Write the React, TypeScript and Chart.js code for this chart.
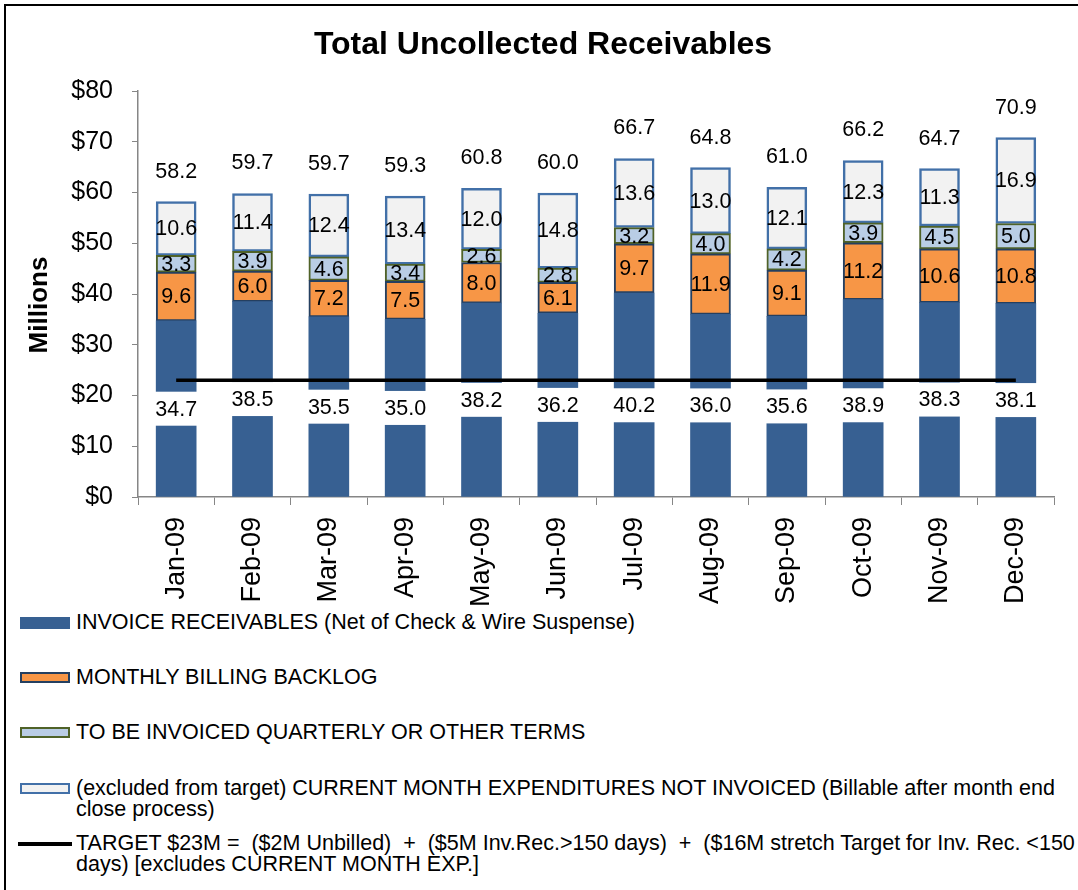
import React, { useEffect, useRef } from "react";
import { Chart, registerables } from "chart.js";

Chart.register(...registerables);

const months = ["Jan-09", "Feb-09", "Mar-09", "Apr-09", "May-09", "Jun-09", "Jul-09", "Aug-09", "Sep-09", "Oct-09", "Nov-09", "Dec-09"];
const invoiceReceivables = [34.7, 38.5, 35.5, 35.0, 38.2, 36.2, 40.2, 36.0, 35.6, 38.9, 38.3, 38.1];
const monthlyBacklog = [9.6, 6.0, 7.2, 7.5, 8.0, 6.1, 9.7, 11.9, 9.1, 11.2, 10.6, 10.8];
const quarterlyTerms = [3.3, 3.9, 4.6, 3.4, 2.6, 2.8, 3.2, 4.0, 4.2, 3.9, 4.5, 5.0];
const currentMonthExp = [10.6, 11.4, 12.4, 13.4, 12.0, 14.8, 13.6, 13.0, 12.1, 12.3, 11.3, 16.9];
const totals = [58.2, 59.7, 59.7, 59.3, 60.8, 60.0, 66.7, 64.8, 61.0, 66.2, 64.7, 70.9];
const targetValue = [23, 23, 23, 23, 23, 23, 23, 23, 23, 23, 23, 23];
const yTicks = [0, 10, 20, 30, 40, 50, 60, 70, 80];

const chartTitle = "Total Uncollected Receivables";
const yAxisTitle = "Millions";

const seriesNames = [
  "INVOICE RECEIVABLES (Net of Check & Wire Suspense)",
  "MONTHLY BILLING BACKLOG",
  "TO BE INVOICED QUARTERLY OR OTHER TERMS",
  "(excluded from target) CURRENT MONTH EXPENDITURES NOT INVOICED (Billable after month end\nclose process)",
  "TARGET $23M =  ($2M Unbilled)  +  ($5M Inv.Rec.>150 days)  +  ($16M stretch Target for Inv. Rec. <150\ndays) [excludes CURRENT MONTH EXP.]",
];

const FONT = '"Liberation Sans", Arial, Helvetica, sans-serif';

const COLORS = {
  invoice: "#376092",
  backlog: "#F79646",
  backlogBorder: "#243F60",
  quarterly: "#B9CDE5",
  quarterlyBorder: "#4F6228",
  current: "#F2F2F2",
  currentBorder: "#4270A8",
  axis: "#868686",
};

const barSeries = [invoiceReceivables, monthlyBacklog, quarterlyTerms, currentMonthExp];

const labelPlugin = {
  id: "stackLabels",
  afterDatasetsDraw(chart: any) {
    const ctx = chart.ctx;
    const yScale = chart.scales.y;
    const lineY = yScale.getPixelForValue(targetValue[0]);
    ctx.save();
    ctx.font = `21.5px ${FONT}`;
    ctx.textAlign = "center";
    ctx.textBaseline = "middle";
    barSeries.forEach((values, di) => {
      const meta = chart.getDatasetMeta(di);
      meta.data.forEach((el: any, i: number) => {
        const p = el.getProps(["x", "y", "base", "width"], true);
        let cy = (p.y + p.base) / 2;
        const txt = values[i].toFixed(1);
        if (di === 0) {
          const h = 34;
          let top = cy - h / 2;
          // keep the label box clear of the target line
          if (top < lineY + 1.5) {
            top = lineY + 8;
            cy = top + h / 2;
          }
          const tw = ctx.measureText(txt).width;
          const w = Math.max(tw + 4, p.width + 2);
          ctx.fillStyle = "#ffffff";
          ctx.fillRect(p.x - w / 2, top, w, h);
        }
        ctx.fillStyle = "#000000";
        ctx.fillText(txt, p.x, cy + 1);
      });
    });
    const topMeta = chart.getDatasetMeta(3);
    topMeta.data.forEach((el: any, i: number) => {
      const p = el.getProps(["x", "y"], true);
      ctx.fillStyle = "#000000";
      ctx.fillText(totals[i].toFixed(1), p.x, p.y - 30);
    });

    // chart title
    ctx.font = `bold 32px ${FONT}`;
    ctx.fillText(chartTitle, 537, 39);

    // y-axis title
    ctx.save();
    ctx.translate(34, 299);
    ctx.rotate(-Math.PI / 2);
    ctx.font = `bold 26px ${FONT}`;
    ctx.fillText(yAxisTitle, 0, 0);
    ctx.restore();

    ctx.restore();
  },
};

export default function App() {
  const canvasRef = useRef<HTMLCanvasElement | null>(null);

  useEffect(() => {
    if (!canvasRef.current) return;
    const chart = new Chart(canvasRef.current, {
      type: "bar",
      data: {
        labels: months,
        datasets: [
          {
            type: "bar",
            label: seriesNames[0],
            data: invoiceReceivables,
            backgroundColor: COLORS.invoice,
            borderWidth: 0,
            order: 1,
            stack: "s",
          },
          {
            type: "bar",
            label: seriesNames[1],
            data: monthlyBacklog,
            backgroundColor: COLORS.backlog,
            borderColor: COLORS.backlogBorder,
            borderWidth: 2,
            borderSkipped: false,
            order: 1,
            stack: "s",
          },
          {
            type: "bar",
            label: seriesNames[2],
            data: quarterlyTerms,
            backgroundColor: COLORS.quarterly,
            borderColor: COLORS.quarterlyBorder,
            borderWidth: 2,
            borderSkipped: false,
            order: 1,
            stack: "s",
          },
          {
            type: "bar",
            label: seriesNames[3],
            data: currentMonthExp,
            backgroundColor: COLORS.current,
            borderColor: COLORS.currentBorder,
            borderWidth: 2.5,
            borderSkipped: false,
            order: 1,
            stack: "s",
          },
          {
            type: "line",
            label: seriesNames[4],
            data: targetValue,
            borderColor: "#000000",
            borderWidth: 3.5,
            pointRadius: 0,
            fill: false,
            order: 0,
            stack: "target",
          } as any,
        ],
      },
      options: {
        responsive: false,
        animation: false,
        layout: { padding: { left: 0, right: 24, top: 85, bottom: 0 } },
        datasets: {
          bar: { barThickness: 40 },
        },
        plugins: {
          legend: { display: false },
          tooltip: { enabled: false },
          title: { display: false },
        },
        scales: {
          x: {
            stacked: true,
            grid: {
              display: true,
              drawOnChartArea: false,
              drawTicks: true,
              tickLength: 8,
              color: COLORS.axis,
              offset: true,
            },
            border: { display: true, color: COLORS.axis, width: 1.5 },
            ticks: {
              autoSkip: false,
              maxRotation: 90,
              minRotation: 90,
              padding: 12,
              color: "#000000",
              font: { family: FONT, size: 27 },
            },
            afterFit(scale: any) {
              scale.height = 109;
            },
          },
          y: {
            stacked: true,
            min: 0,
            max: 80,
            afterBuildTicks(scale: any) {
              scale.ticks = yTicks.map((v) => ({ value: v }));
            },
            grid: {
              display: true,
              drawOnChartArea: false,
              drawTicks: true,
              tickLength: 6,
              color: COLORS.axis,
            },
            border: { display: true, color: COLORS.axis, width: 1.5 },
            ticks: {
              padding: 19,
              color: "#000000",
              font: { family: FONT, size: 25 },
              callback: (v: any) => "$" + v,
            },
            title: { display: false },
            afterFit(scale: any) {
              scale.width = 132;
            },
          },
        },
      },
      plugins: [labelPlugin],
    } as any);
    return () => chart.destroy();
  }, []);

  const legendTops = [605.5, 660.5, 715.5, 771.5, 826.5];

  const swatch = (i: number): React.CSSProperties => {
    const base: React.CSSProperties = {
      position: "absolute",
      left: 14,
      width: 50,
      height: 11,
      top: 5,
      boxSizing: "border-box",
    };
    if (i === 0) return { ...base, background: COLORS.invoice, height: 12 };
    if (i === 1) return { ...base, background: COLORS.backlog, border: `2.5px solid ${COLORS.backlogBorder}` };
    if (i === 2) return { ...base, background: COLORS.quarterly, border: `2px solid ${COLORS.quarterlyBorder}` };
    if (i === 3) return { ...base, background: COLORS.current, border: `2.5px solid ${COLORS.currentBorder}` };
    return { ...base, left: 12, width: 54, height: 4, top: 9, background: "#000000" };
  };

  return (
    <div style={{ position: "fixed", left: 0, top: 0, width: "100vw", height: "100vh", overflow: "hidden", background: "#ffffff" }}>
      <div
        style={{
          position: "absolute",
          left: 4,
          top: 4,
          width: 1110,
          height: 920,
          border: "2px solid #000000",
          background: "#ffffff",
        }}
      >
        <canvas ref={canvasRef} width={1072} height={600} style={{ position: "absolute", left: 0, top: 0, width: 1072, height: 600 }} />
        {seriesNames.map((name, i) => (
          <div key={i} style={{ position: "absolute", left: 0, top: legendTops[i], width: 1090, height: 44 }}>
            <div style={swatch(i)} />
            <div
              style={{
                position: "absolute",
                left: 70,
                top: 0,
                whiteSpace: "pre",
                fontFamily: FONT,
                fontSize: 21.5,
                lineHeight: "21px",
                color: "#000000",
              }}
            >
              {name}
            </div>
          </div>
        ))}
      </div>
    </div>
  );
}
